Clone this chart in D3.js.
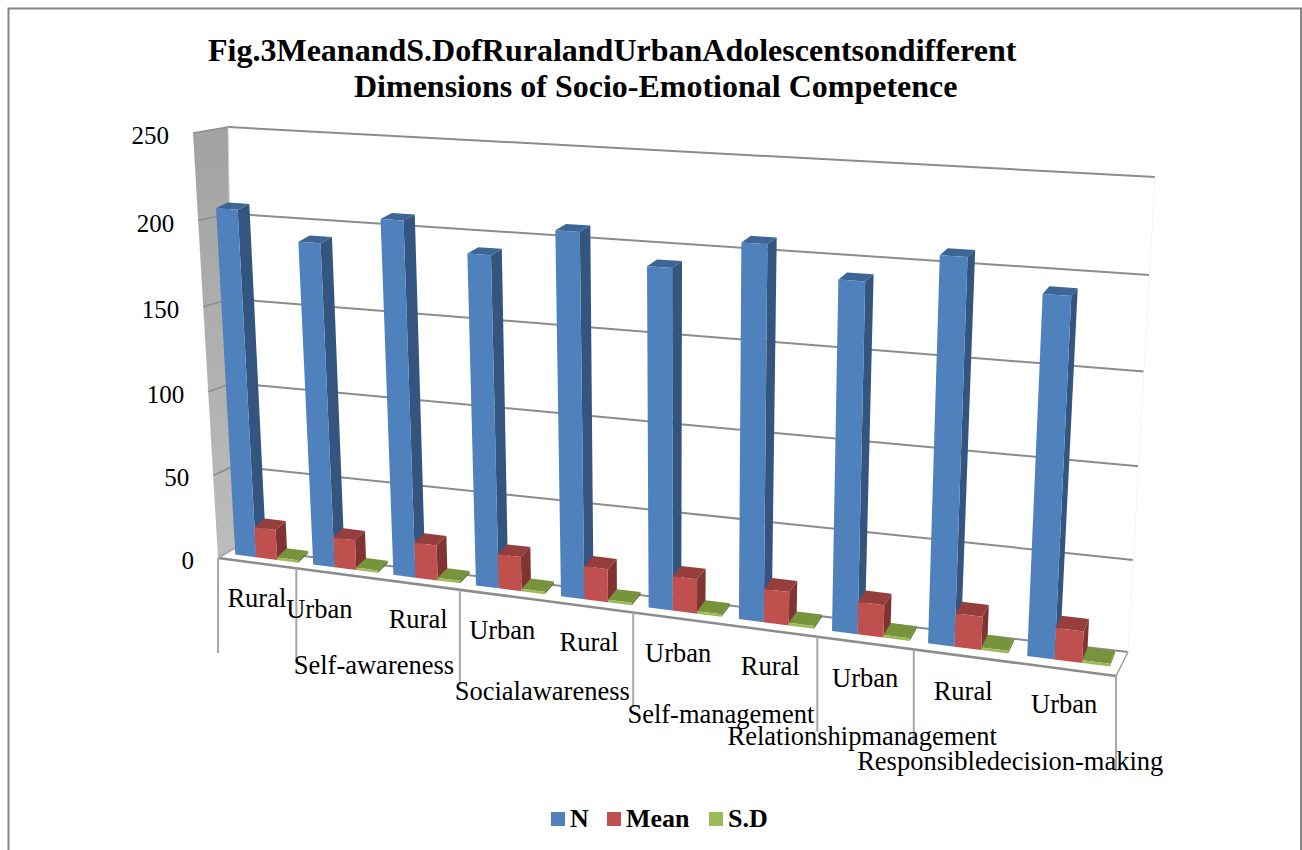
<!DOCTYPE html>
<html>
  <head>
    <meta charset="utf-8">
    <title>Fig.3 Mean and S.D</title>
    <script src="https://cdn.jsdelivr.net/npm/d3@7"></script>
    <style>
      html, body { margin: 0; background: #fff; }
      svg { display: block; }
      text { font-family: "Liberation Serif", "Times New Roman", serif; fill: #000; }
      .tick { font-size: 25px; }
      .cat, .group { font-size: 26.5px; }
      .title, .legend { font-weight: bold; }
      .title { font-size: 32px; }
      .legend { font-size: 26px; }
    </style>
  </head>

  <body>
    <div id="container"></div>

    <script>
      // data
      titleLines = ["Fig.3MeanandS.DofRuralandUrbanAdolescentsondifferent", "Dimensions of Socio-Emotional Competence"];
      categories = ["Rural", "Urban", "Rural", "Urban", "Rural", "Urban", "Rural", "Urban", "Rural", "Urban"];
      groups = ["Self-awareness", "Socialawareness", "Self-management", "Relationshipmanagement", "Responsibledecision-making"];
      groupEdges = [0, 1, 3, 5, 7, 8, 10];
      seriesNames = ["N", "Mean", "S.D"];
      nValues = [207, 191, 207, 191, 207, 191, 207, 191, 207, 191];
      meanValues = [18.5, 18.2, 21, 20.3, 19.4, 19.8, 19, 18.2, 18.4, 17.2];
      sdValues = [1.5, 1.5, 1.5, 1.5, 1.5, 1.5, 1.5, 1.5, 1.5, 1.5];
      yTicks = [0, 50, 100, 150, 200, 250];

      colours = [
        {front: "#4f81bd", side: "#33557f", top: "#3d6596"},
        {front: "#c0504d", side: "#7f3432", top: "#963e3b"},
        {front: "#9bbb59", side: "#5f7a30", top: "#77933c"}
      ];

      width = 1302;
      height = 850;

      svg = d3.select("#container").append("svg")
        .attr("width", width)
        .attr("height", height);

      // maps the unit square onto a quad (corners: 00, 10, 11, 01)
      function homography(q) {
        let [[x0, y0], [x1, y1], [x2, y2], [x3, y3]] = q;
        let dx1 = x1 - x2, dx2 = x3 - x2, sx = x0 - x1 + x2 - x3;
        let dy1 = y1 - y2, dy2 = y3 - y2, sy = y0 - y1 + y2 - y3;
        let det = dx1 * dy2 - dx2 * dy1;
        let g = (sx * dy2 - dx2 * sy) / det;
        let h = (dx1 * sy - sx * dy1) / det;
        return (u, v) => {
          let w = g * u + h * v + 1;
          return [
            ((x1 - x0 + g * x1) * u + (x3 - x0 + h * x3) * v + x0) / w,
            ((y1 - y0 + g * y1) * u + (y3 - y0 + h * y3) * v + y0) / w
          ];
        };
      }

      // box walls, bottom left / bottom right / top right / top left
      backWall = homography([[235, 548], [1128, 652], [1155, 177], [228, 127]]);
      frontWall = homography([[218, 558], [1116, 676], [1126, 184], [193, 133]]);
      // the bars sit in a shallower slab than the walls
      barBack = homography([[233, 544], [1118, 654], [1145, 174], [211, 127]]);
      barFront = homography([[223, 553], [1113, 667], [1139, 180], [199, 132]]);

      xScale = d3.scaleLinear().domain([0, categories.length]).range([0, 1]);
      yScale = d3.scaleLinear().domain([0, 250]).range([0, 1]);

      function between(back, front, c, val, depth) {
        let a = back(xScale(c), yScale(val));
        let b = front(xScale(c), yScale(val));
        return [a[0] + (b[0] - a[0]) * depth, a[1] + (b[1] - a[1]) * depth];
      }
      // category position, value, depth (0 back, 1 front)
      project = (c, val, depth) => between(backWall, frontWall, c, val, depth);
      projectBar = (c, val, depth) => between(barBack, barFront, c, val, depth);

      poly = d3.line();
      function face(g, pts, fill) {
        g.append("path")
          .attr("d", poly(pts) + "Z")
          .attr("fill", fill);
      }
      function edge(g, a, b, col, w) {
        g.append("line")
          .attr("x1", a[0]).attr("y1", a[1])
          .attr("x2", b[0]).attr("y2", b[1])
          .attr("stroke", col)
          .attr("stroke-width", w);
      }

      // outer frame
      svg.append("path")
        .attr("d", "M8.5," + height + "V8.5H1301V" + height)
        .attr("fill", "none")
        .attr("stroke", "#868686")
        .attr("stroke-width", 2);

      // side wall
      wallFill = svg.append("defs").append("linearGradient")
        .attr("id", "wallFill")
        .attr("x1", 0).attr("y1", 0).attr("x2", 0).attr("y2", 1);
      wallFill.append("stop").attr("offset", 0).attr("stop-color", "#a2a2a2");
      wallFill.append("stop").attr("offset", 1).attr("stop-color", "#bcbcbc");

      box = svg.append("g");
      box.append("path")
        .attr("d", poly([project(0, 0, 0), project(0, 0, 1), project(0, 250, 1), project(0, 250, 0)]) + "Z")
        .attr("fill", "url(#wallFill)");

      // gridlines
      yTicks.forEach(t => {
        edge(box, project(0, t, 1), project(0, t, 0), "#8c8c8c", 1.5);
        edge(box, project(0, t, 0), project(10, t, 0), "#8c8c8c", 2);
      });
      edge(box, project(0, 0, 0), project(0, 250, 0), "#d0d0d0", 1);
      edge(box, project(10, 0, 0), project(10, 250, 0), "#f4f4f4", 1);

      // floor outline
      edge(box, project(0, 0, 1), project(10, 0, 1), "#8c8c8c", 2.5);
      edge(box, project(0, 0, 1), project(0, 0, 0), "#b0b0b0", 1.5);
      edge(box, project(10, 0, 1), project(10, 0, 0), "#a0a0a0", 1.5);

      // group ticks below the floor
      groupEdges.forEach(c => {
        let p = project(c, 0, 1);
        edge(box, p, [p[0], p[1] + 95], "#a6a6a6", 2);
      });

      // bars
      barStart = 0.16;
      barSize = 0.27;
      seriesValues = [nValues, meanValues, sdValues];

      categories.forEach((cat, i) => {
        seriesValues.forEach((values, s) => {
          let a = i + barStart + s * barSize,
              b = a + barSize,
              v = values[i],
              col = colours[s],
              bar = svg.append("g").attr("class", "bar");
          face(bar, [projectBar(b, 0, 1), projectBar(b, 0, 0), projectBar(b, v, 0), projectBar(b, v, 1)], col.side);
          face(bar, [projectBar(a, v, 1), projectBar(b, v, 1), projectBar(b, v, 0), projectBar(a, v, 0)], col.top);
          face(bar, [projectBar(a, 0, 1), projectBar(b, 0, 1), projectBar(b, v, 1), projectBar(a, v, 1)], col.front);
        });
      });

      // value labels
      svg.selectAll(".tick")
        .data(yTicks)
        .enter().append("text")
          .classed("tick", true)
          .attr("text-anchor", "end")
          .attr("x", d => project(0, d, 1)[0] - 24)
          .attr("y", d => project(0, d, 1)[1] + 11)
          .text(d => d);

      // category labels ("Urban" beside the first tick sits further left)
      svg.selectAll(".cat")
        .data(categories)
        .enter().append("text")
          .classed("cat", true)
          .attr("text-anchor", "middle")
          .attr("x", (d, i) => project(i + 0.5, 0, 1)[0] - (i == 1 ? 17 : 0))
          .attr("y", (d, i) => project(i + 0.5, 0, 1)[1] + 44)
          .text(d => d);

      // group labels, each centred on its span
      groupDrop = [95, 99, 99, 102, 107];
      svg.selectAll(".group")
        .data(groups)
        .enter().append("text")
          .classed("group", true)
          .attr("text-anchor", "middle")
          .attr("x", (d, i) => project((groupEdges[i + 1] + groupEdges[i + 2]) / 2, 0, 1)[0] - 3)
          .attr("y", (d, i) => project((groupEdges[i + 1] + groupEdges[i + 2]) / 2, 0, 1)[1] + groupDrop[i])
          .text(d => d);

      // title
      svg.selectAll(".title")
        .data(titleLines)
        .enter().append("text")
          .classed("title", true)
          .attr("x", (d, i) => i == 0 ? 208 : 354)
          .attr("y", (d, i) => i == 0 ? 61 : 97)
          .text(d => d);

      // legend
      legendX = [551, 607, 709];
      legend = svg.append("g");
      seriesNames.forEach((name, i) => {
        legend.append("rect")
          .attr("x", legendX[i])
          .attr("y", 812)
          .attr("width", 14)
          .attr("height", 14)
          .attr("fill", colours[i].front);
        legend.append("text")
          .classed("legend", true)
          .attr("x", legendX[i] + 19)
          .attr("y", 827)
          .text(name);
      });
    </script>
  </body>
</html>
